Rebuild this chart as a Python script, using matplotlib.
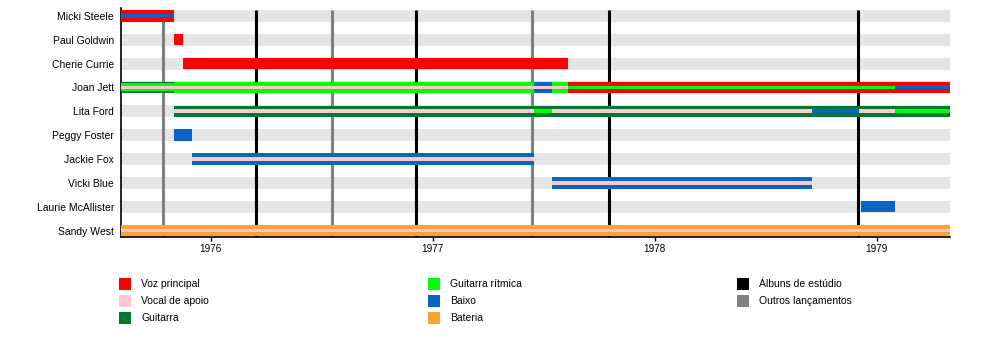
import matplotlib
matplotlib.use("Agg")
import matplotlib.pyplot as plt
from matplotlib.patches import Rectangle

plt.rcParams['font.family'] = ['Liberation Sans', 'DejaVu Sans']

# ---------------------------------------------------------
# Data (decimal years)
# ---------------------------------------------------------
members = ["Micki Steele", "Paul Goldwin", "Cherie Currie", "Joan Jett", "Lita Ford",
           "Peggy Foster", "Jackie Fox", "Vicki Blue", "Laurie McAllister", "Sandy West"]

start = 1975.595
end = 1979.33

# segments per member: (from, to, roles outer -> inner)
micki_steele = [(1975.595, 1975.833, ["vocal", "bass"])]
paul_goldwin = [(1975.833, 1975.874, ["vocal"])]
cherie_currie = [(1975.874, 1977.608, ["vocal"])]
joan_jett = [(1975.595, 1975.833, ["guitar", "rhythm", "backing"]),
             (1975.833, 1977.455, ["rhythm", "backing"]),
             (1977.455, 1977.536, ["bass", "backing"]),
             (1977.536, 1977.608, ["rhythm", "backing"]),
             (1977.608, 1979.081, ["vocal", "rhythm"]),
             (1979.081, 1979.33, ["vocal", "bass"])]
lita_ford = [(1975.833, 1977.455, ["guitar", "backing"]),
             (1977.455, 1977.536, ["guitar", "rhythm"]),
             (1977.536, 1978.707, ["guitar", "backing"]),
             (1978.707, 1978.92, ["guitar", "bass"]),
             (1978.92, 1979.081, ["guitar", "backing"]),
             (1979.081, 1979.33, ["guitar", "rhythm"])]
peggy_foster = [(1975.833, 1975.914, ["bass"])]
jackie_fox = [(1975.914, 1977.455, ["bass", "backing"])]
vicki_blue = [(1977.536, 1978.707, ["bass", "backing"])]
laurie_mcallister = [(1978.928, 1979.081, ["bass"])]
sandy_west = [(1975.595, 1979.33, ["drums", "backing"])]

segments = [micki_steele, paul_goldwin, cherie_currie, joan_jett, lita_ford,
            peggy_foster, jackie_fox, vicki_blue, laurie_mcallister, sandy_west]

studio_albums = [1976.203, 1976.923, 1977.793, 1978.914]
other_releases = [1975.784, 1976.545, 1977.446]

years = [1976, 1977, 1978, 1979]

roles = ["vocal", "backing", "guitar", "rhythm", "bass", "drums"]
role_labels = ["Voz principal", "Vocal de apoio", "Guitarra", "Guitarra rítmica", "Baixo", "Bateria"]
line_labels = ["Álbuns de estúdio", "Outros lançamentos"]

colors = {
    "vocal": "#ff0000",
    "backing": "#ffc8cc",
    "guitar": "#007a33",
    "rhythm": "#00ff00",
    "bass": "#0b63c5",
    "drums": "#ffa030",
}
line_colors = ["black", "#808080"]

# ---------------------------------------------------------
# Plot
# ---------------------------------------------------------
fig = plt.figure(figsize=(10, 3.45), dpi=100)
ax = fig.add_axes([0.121, 0.313, 0.829, 0.664])

# light gray row bands
for i in range(len(members)):
    ax.add_patch(Rectangle((start, i - 0.25), end - start, 0.5,
                           facecolor="#e5e5e5", edgecolor="none", zorder=1))

for x in studio_albums:
    ax.axvline(x, ymax=0.99, color=line_colors[0], lw=2.2, zorder=2, solid_capstyle="butt")
for x in other_releases:
    ax.axvline(x, ymax=0.99, color=line_colors[1], lw=2.2, zorder=2, solid_capstyle="butt")

heights = {1: [0.48], 2: [0.48, 0.15], 3: [0.48, 0.33, 0.15]}
for i, segs in enumerate(segments):
    for a, b, rl in segs:
        hs = heights[len(rl)]
        for r, h in zip(rl, hs):
            ax.add_patch(Rectangle((a, i - h / 2), b - a, h,
                                   facecolor=colors[r], edgecolor="none", zorder=3))

ax.set_xlim(start, end)
ax.set_ylim(9.27, -0.33)
ax.set_yticks(range(len(members)))
ax.set_yticklabels(members, fontsize=7.5)
ax.tick_params(axis="y", length=0, pad=5)
ax.set_xticks(years)
ax.set_xticklabels([str(y) for y in years], fontsize=7.2)
ax.tick_params(axis="x", length=3, width=1, pad=2)
for s in ["top", "right"]:
    ax.spines[s].set_visible(False)
ax.spines["left"].set_linewidth(1.2)
ax.spines["bottom"].set_linewidth(1.2)

# legend
legend_items = list(zip(role_labels, [colors[r] for r in roles])) + list(zip(line_labels, line_colors))
col_x = [0.119, 0.428, 0.737]
row_y = [1 - 284 / 345, 1 - 301 / 345, 1 - 318 / 345]
for k, (lab, col) in enumerate(legend_items):
    cx = col_x[k // 3]
    ry = row_y[k % 3]
    fig.add_artist(Rectangle((cx, ry - 0.018), 0.012, 0.036, facecolor=col,
                             edgecolor="none", transform=fig.transFigure))
    fig.text(cx + 0.022, ry, lab, fontsize=7.5, va="center", ha="left")

plt.savefig("out.png", dpi=100)
